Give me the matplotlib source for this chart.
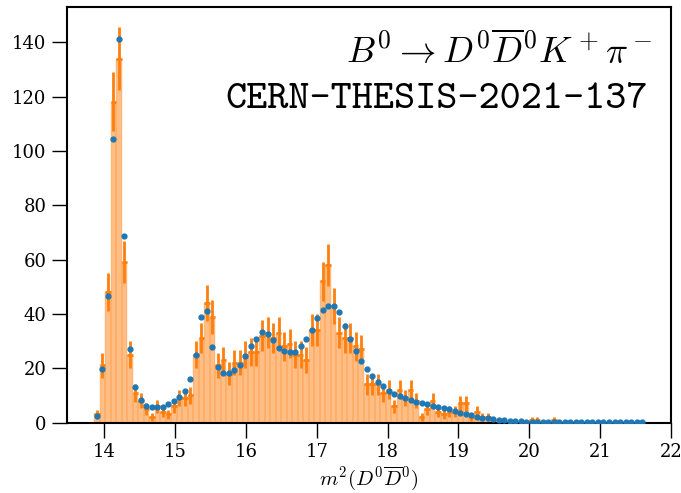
import numpy as np
import matplotlib
matplotlib.use("Agg")
import matplotlib.pyplot as plt

plt.rcParams['mathtext.fontset'] = 'cm'
plt.rcParams['font.family'] = ['DejaVu Serif']

# binning (100 bins across the kinematic range)
x_lo, x_hi, n_bins = 13.855, 21.633, 100

data_counts = [
    3, 21, 48, 118, 134, 59, 25, 11, 8, 5,
    2, 6, 4, 3, 6, 9, 9, 10, 25, 31,
    44, 39, 21, 23, 18, 22, 22, 25, 26, 26,
    32, 33, 31, 33, 28, 29, 25, 25, 23, 34,
    34, 52, 58, 43, 33, 31, 31, 28, 27, 14,
    14, 14, 11, 12, 6, 12, 9, 12, 8, 2,
    5, 8, 4, 3, 4, 4, 7, 7, 2, 4,
    2, 2, 1, 0, 0, 0, 0, 0, 0, 1,
    1, 0, 0, 1, 0, 0, 0, 0, 0, 0,
    0, 0, 0, 0, 0, 0, 0, 0, 0, 0,
]

model_values = [
    2.5, 19.6, 46.7, 104.5, 141.0, 68.5, 27.0, 13.2, 8.3, 6.2,
    5.6, 5.6, 5.8, 6.7, 7.8, 9.4, 11.6, 15.9, 24.9, 39.0,
    41.1, 27.7, 20.5, 18.2, 18.4, 19.4, 21.2, 24.3, 28.0, 30.7,
    33.5, 32.5, 30.2, 27.6, 26.4, 25.8, 26.1, 28.0, 30.7, 34.1,
    38.6, 41.5, 42.9, 42.9, 40.5, 35.4, 30.7, 26.4, 22.8, 19.6,
    17.3, 14.8, 13.5, 11.6, 10.6, 9.9, 8.9, 8.4, 7.7, 7.2,
    6.7, 6.2, 5.7, 5.2, 4.8, 4.2, 3.6, 3.0, 2.6, 2.1,
    1.8, 1.5, 1.2, 0.95, 0.75, 0.6, 0.5, 0.42, 0.36, 0.3,
    0.26, 0.22, 0.19, 0.16, 0.14, 0.12, 0.1, 0.09, 0.08, 0.07,
    0.06, 0.05, 0.05, 0.04, 0.04, 0.03, 0.03, 0.02, 0.02, 0.02,
]

x_ticks = [14, 15, 16, 17, 18, 19, 20, 21, 22]
y_ticks = [0, 20, 40, 60, 80, 100, 120, 140]

edges = np.linspace(x_lo, x_hi, n_bins + 1)
centers = 0.5 * (edges[:-1] + edges[1:])
width = edges[1] - edges[0]
data = np.array(data_counts, dtype=float)
model = np.array(model_values)

fig = plt.figure(figsize=(6.81, 4.93), dpi=100)
ax = fig.add_axes([0.098, 0.143, 0.887, 0.843])

ax.bar(centers, data, width=width, color='C1', alpha=0.5,
       edgecolor='C1', linewidth=0.35)
ax.errorbar(centers, data, yerr=np.sqrt(data), xerr=width / 2,
            fmt='none', ecolor='C1', elinewidth=2.0)
ax.plot(centers, model, 'o', color='C0', markersize=3.5, zorder=5)

ax.set_xlim(13.47, 22.0)
ax.set_ylim(0, 153)
ax.set_xticks(x_ticks)
ax.set_yticks(y_ticks)
ax.tick_params(direction='out', length=10.5, width=1.0, labelsize=13, pad=4)
for s in ax.spines.values():
    s.set_linewidth(1.5)
ax.set_xlabel(r'$m^2(D^0\overline{D}^0)$', fontsize=15, labelpad=3)

ax.text(0.969, 0.865, r'$B^0 \rightarrow D^0\overline{D}^0 K^+\pi^-$',
        transform=ax.transAxes, ha='right', va='baseline', fontsize=26.3)
ax.text(0.962, 0.757, 'CERN-THESIS-2021-137',
        transform=ax.transAxes, ha='right', va='baseline', fontsize=29,
        family=['cmtt10', 'DejaVu Sans Mono'])

fig.savefig('out.png', dpi=100)
